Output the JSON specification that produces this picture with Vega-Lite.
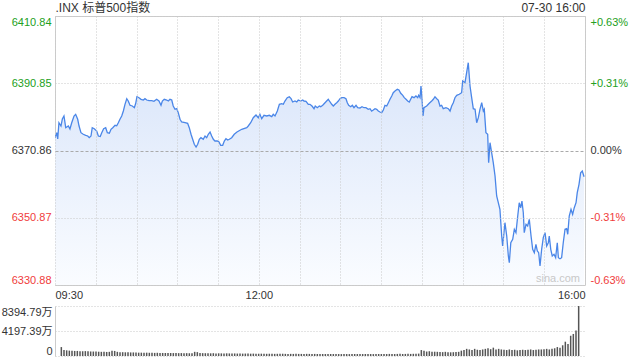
{
  "$schema": "https://vega.github.io/schema/vega-lite/v6.json",
  "background": "white",
  "padding": {"left": 1, "top": 0, "right": 5, "bottom": 4},
  "config": {
    "font": "Liberation Sans, Noto Sans CJK SC, sans-serif",
    "view": {"stroke": null},
    "axis": {"labelFont": "Liberation Sans, Noto Sans CJK SC, sans-serif", "labelFontSize": 11, "ticks": false, "domain": false, "title": null, "labelOverlap": false}
  },
  "datasets": {
    "price": [
      {"t":0,"p":6374.58},{"t":1.3,"p":6376.15},{"t":2,"p":6374.28},{"t":2.9,"p":6379.12},{"t":4.4,"p":6378.14},{"t":5.4,"p":6380.22},{"t":6.6,"p":6381.12},{"t":7.9,"p":6377.64},{"t":9.8,"p":6378.14},{"t":11,"p":6377.25},{"t":12.3,"p":6379.12},{"t":14,"p":6381.12},{"t":15.2,"p":6381.62},{"t":16.7,"p":6380.14},{"t":17.7,"p":6378.14},{"t":19.1,"p":6376.15},{"t":20.8,"p":6375.68},{"t":22.6,"p":6375.38},{"t":24.1,"p":6375.17},{"t":25.2,"p":6374.67},{"t":26.5,"p":6375.17},{"t":27.4,"p":6377.64},{"t":28.9,"p":6377.34},{"t":30.7,"p":6376.66},{"t":31.9,"p":6375.17},{"t":33.3,"p":6375.0},{"t":34.4,"p":6376.15},{"t":35.8,"p":6377.34},{"t":37.3,"p":6377.64},{"t":38.5,"p":6376.15},{"t":40,"p":6376.0},{"t":41.2,"p":6377.16},{"t":42.5,"p":6377.64},{"t":44.2,"p":6378.35},{"t":45.4,"p":6378.2},{"t":46.6,"p":6379.12},{"t":47.8,"p":6380.14},{"t":49.1,"p":6381.12},{"t":50.3,"p":6382.6},{"t":51.5,"p":6384.59},{"t":52.8,"p":6386.26},{"t":53.9,"p":6385.57},{"t":55.2,"p":6384.3},{"t":56.9,"p":6384.09},{"t":58.4,"p":6383.58},{"t":59.4,"p":6384.89},{"t":60.3,"p":6386.85},{"t":61.8,"p":6386.55},{"t":63.3,"p":6386.08},{"t":65,"p":6385.87},{"t":66.2,"p":6386.26},{"t":67.5,"p":6385.87},{"t":69.2,"p":6385.66},{"t":71.2,"p":6385.66},{"t":72.8,"p":6385.48},{"t":74.8,"p":6386.08},{"t":76.5,"p":6385.57},{"t":78,"p":6384.3},{"t":79,"p":6385.57},{"t":80.4,"p":6386.08},{"t":82.2,"p":6385.87},{"t":83.4,"p":6385.57},{"t":84.6,"p":6386.08},{"t":85.9,"p":6385.87},{"t":87,"p":6384.09},{"t":88.3,"p":6383.11},{"t":89.6,"p":6383.29},{"t":90.7,"p":6382.1},{"t":92,"p":6380.14},{"t":93.2,"p":6379.33},{"t":95.7,"p":6379.12},{"t":97.6,"p":6378.95},{"t":98.8,"p":6377.64},{"t":100.1,"p":6375.68},{"t":101.3,"p":6374.19},{"t":102.5,"p":6372.7},{"t":103.8,"p":6371.9},{"t":105,"p":6372.7},{"t":106.2,"p":6374.19},{"t":107.4,"p":6374.67},{"t":109.1,"p":6374.19},{"t":110.4,"p":6375.17},{"t":111.6,"p":6374.67},{"t":112.8,"p":6375.68},{"t":114.1,"p":6376.36},{"t":115.3,"p":6375.17},{"t":116.5,"p":6374.19},{"t":117.7,"p":6373.68},{"t":119.4,"p":6373.68},{"t":120.7,"p":6373.39},{"t":121.9,"p":6372.41},{"t":123.4,"p":6372.41},{"t":124.6,"p":6373.68},{"t":125.8,"p":6374.37},{"t":127.1,"p":6373.98},{"t":128.3,"p":6374.19},{"t":130,"p":6374.67},{"t":131.9,"p":6375.68},{"t":133.9,"p":6376.36},{"t":137.4,"p":6377.16},{"t":141.1,"p":6377.64},{"t":142.2,"p":6378.14},{"t":144,"p":6379.12},{"t":145.9,"p":6380.61},{"t":147.9,"p":6381.41},{"t":149.6,"p":6380.61},{"t":150.8,"p":6381.62},{"t":152.1,"p":6380.31},{"t":153.8,"p":6381.32},{"t":155.8,"p":6381.12},{"t":157.7,"p":6381.32},{"t":159.5,"p":6380.91},{"t":160.6,"p":6381.62},{"t":161.9,"p":6381.12},{"t":163.6,"p":6382.6},{"t":165.1,"p":6384.59},{"t":166.8,"p":6384.77},{"t":168,"p":6384.59},{"t":169.2,"p":6385.57},{"t":170.9,"p":6386.56},{"t":172.4,"p":6386.85},{"t":173.7,"p":6386.26},{"t":174.9,"p":6385.28},{"t":176.6,"p":6385.57},{"t":177.9,"p":6385.28},{"t":179,"p":6385.87},{"t":180.8,"p":6385.57},{"t":182.3,"p":6385.87},{"t":183.2,"p":6385.57},{"t":184.7,"p":6385.5},{"t":186.4,"p":6384.59},{"t":187.6,"p":6384.59},{"t":189.1,"p":6384.09},{"t":190.6,"p":6383.29},{"t":191.5,"p":6384.09},{"t":193,"p":6383.58},{"t":194.5,"p":6384.09},{"t":195.5,"p":6383.88},{"t":197,"p":6384.3},{"t":198.7,"p":6385.07},{"t":199.9,"p":6385.57},{"t":201.1,"p":6386.08},{"t":202.4,"p":6385.28},{"t":203.6,"p":6384.59},{"t":204.8,"p":6384.09},{"t":206,"p":6384.59},{"t":207.3,"p":6385.07},{"t":208.5,"p":6385.57},{"t":209.7,"p":6386.26},{"t":211,"p":6386.56},{"t":212.7,"p":6386.56},{"t":214.1,"p":6386.26},{"t":215.1,"p":6385.07},{"t":216.1,"p":6384.3},{"t":217.6,"p":6383.88},{"t":218.8,"p":6384.3},{"t":220,"p":6383.58},{"t":221.5,"p":6384.3},{"t":222.7,"p":6383.58},{"t":224.4,"p":6383.5},{"t":225.9,"p":6383.88},{"t":227.4,"p":6383.58},{"t":228.8,"p":6383.6},{"t":230.5,"p":6383.11},{"t":231.8,"p":6383.29},{"t":233,"p":6382.6},{"t":234.2,"p":6382.9},{"t":235.5,"p":6383.29},{"t":236.7,"p":6383.11},{"t":237.9,"p":6382.6},{"t":239.1,"p":6382.31},{"t":240.4,"p":6382.1},{"t":241.6,"p":6382.9},{"t":242.8,"p":6384.3},{"t":244.1,"p":6384.09},{"t":245.3,"p":6385.07},{"t":246.5,"p":6386.08},{"t":247.8,"p":6387.06},{"t":248.9,"p":6388.04},{"t":250.2,"p":6388.55},{"t":251.9,"p":6389.05},{"t":253.1,"p":6388.84},{"t":254.4,"p":6387.86},{"t":255.9,"p":6387.27},{"t":257,"p":6386.56},{"t":258.3,"p":6386.08},{"t":259.5,"p":6385.57},{"t":260.7,"p":6385.28},{"t":261.7,"p":6386.08},{"t":262.7,"p":6386.85},{"t":264.2,"p":6386.56},{"t":265.6,"p":6387.06},{"t":266.9,"p":6386.56},{"t":267.6,"p":6387.27},{"t":268.6,"p":6386.56},{"t":269.3,"p":6390.03},{"t":270.1,"p":6386.08},{"t":270.8,"p":6381.12},{"t":271.5,"p":6383.58},{"t":273.5,"p":6384.09},{"t":275.4,"p":6384.89},{"t":277.2,"p":6385.57},{"t":278.4,"p":6386.08},{"t":279.6,"p":6386.85},{"t":280.9,"p":6386.26},{"t":282,"p":6385.87},{"t":283.3,"p":6384.09},{"t":284.5,"p":6384.3},{"t":285.7,"p":6383.29},{"t":287.7,"p":6383.58},{"t":289.4,"p":6383.29},{"t":290.7,"p":6382.6},{"t":291.9,"p":6384.09},{"t":293.1,"p":6385.07},{"t":294.3,"p":6386.56},{"t":295.6,"p":6387.27},{"t":297.5,"p":6387.57},{"t":299.2,"p":6388.04},{"t":300,"p":6391.52},{"t":301.7,"p":6391.02},{"t":302.9,"p":6393.99},{"t":304.1,"p":6396.96},{"t":305.4,"p":6390.03},{"t":306.6,"p":6386.56},{"t":307.8,"p":6383.29},{"t":309.1,"p":6383.11},{"t":310.3,"p":6379.12},{"t":311.5,"p":6380.61},{"t":312.7,"p":6383.11},{"t":314,"p":6385.07},{"t":315.2,"p":6382.6},{"t":315.9,"p":6383.11},{"t":317.1,"p":6376.15},{"t":318.4,"p":6375.68},{"t":319.1,"p":6367.23},{"t":320.1,"p":6373.18},{"t":321.3,"p":6370.21},{"t":322.5,"p":6367.23},{"t":323.8,"p":6363.28},{"t":325,"p":6357.34},{"t":326.2,"p":6355.34},{"t":327.4,"p":6353.38},{"t":328.7,"p":6345.45},{"t":329.4,"p":6342.47},{"t":331.1,"p":6349.4},{"t":332.4,"p":6345.45},{"t":333.6,"p":6339.5},{"t":334.3,"p":6337.51},{"t":335.4,"p":6343.45},{"t":336.8,"p":6344.46},{"t":338,"p":6347.44},{"t":339.2,"p":6346.43},{"t":340.5,"p":6351.39},{"t":341.6,"p":6355.34},{"t":342.7,"p":6353.86},{"t":343.6,"p":6355.85},{"t":344.6,"p":6352.37},{"t":345.3,"p":6346.43},{"t":346.6,"p":6348.92},{"t":347.8,"p":6348.42},{"t":349,"p":6350.41},{"t":350.3,"p":6345.45},{"t":351.5,"p":6341.49},{"t":352.7,"p":6340.48},{"t":353.9,"p":6342.98},{"t":354.9,"p":6340.99},{"t":355.9,"p":6340.48},{"t":356.9,"p":6336.53},{"t":358.1,"p":6341.49},{"t":359.3,"p":6344.94},{"t":360.6,"p":6346.43},{"t":361.8,"p":6342.47},{"t":363,"p":6343.45},{"t":363.7,"p":6345.45},{"t":364.8,"p":6341.49},{"t":365.9,"p":6339.5},{"t":367.2,"p":6340.01},{"t":368.4,"p":6339},{"t":369.6,"p":6343.45},{"t":370.4,"p":6339},{"t":371.6,"p":6338.7},{"t":372.8,"p":6339},{"t":374,"p":6343.45},{"t":375.3,"p":6347.44},{"t":376.5,"p":6347.62},{"t":377.3,"p":6345.95},{"t":378.4,"p":6351.39},{"t":379.7,"p":6353.38},{"t":380.9,"p":6351.9},{"t":382.1,"p":6353.86},{"t":383.4,"p":6355.34},{"t":384.3,"p":6358.32},{"t":385.6,"p":6360.81},{"t":386.8,"p":6364.26},{"t":388,"p":6364.77},{"t":389.3,"p":6363.07}
    ],
    "vol": [
      {"t":1,"v":1500},{"t":3,"v":1000},{"t":5,"v":950},{"t":7,"v":900},{"t":9,"v":900},{"t":11,"v":850},{"t":13,"v":850},{"t":15,"v":800},{"t":17,"v":800},{"t":19,"v":820},{"t":21,"v":780},{"t":23,"v":760},{"t":25,"v":750},{"t":27,"v":740},{"t":29,"v":720},{"t":31,"v":700},{"t":33,"v":720},{"t":35,"v":680},{"t":37,"v":700},{"t":39,"v":900},{"t":41,"v":850},{"t":43,"v":700},{"t":45,"v":650},{"t":47,"v":640},{"t":49,"v":620},{"t":51,"v":630},{"t":53,"v":600},{"t":55,"v":600},{"t":57,"v":580},{"t":59,"v":560},
      {"t":61,"v":560},{"t":63,"v":550},{"t":65,"v":560},{"t":67,"v":540},{"t":69,"v":530},{"t":71,"v":520},{"t":73,"v":540},{"t":75,"v":520},{"t":77,"v":510},{"t":79,"v":500},{"t":81,"v":520},{"t":83,"v":500},{"t":85,"v":490},{"t":87,"v":500},{"t":89,"v":480},{"t":91,"v":490},{"t":93,"v":470},{"t":95,"v":480},{"t":97,"v":460},{"t":99,"v":470},{"t":101,"v":700},{"t":103,"v":650},{"t":105,"v":520},{"t":107,"v":480},{"t":109,"v":470},{"t":111,"v":460},{"t":113,"v":450},{"t":115,"v":470},{"t":117,"v":440},{"t":119,"v":450},
      {"t":121,"v":440},{"t":123,"v":430},{"t":125,"v":450},{"t":127,"v":430},{"t":129,"v":420},{"t":131,"v":430},{"t":133,"v":410},{"t":135,"v":420},{"t":137,"v":400},{"t":139,"v":410},{"t":141,"v":400},{"t":143,"v":390},{"t":145,"v":400},{"t":147,"v":390},{"t":149,"v":380},{"t":151,"v":390},{"t":153,"v":380},{"t":155,"v":370},{"t":157,"v":380},{"t":159,"v":370},{"t":161,"v":360},{"t":163,"v":370},{"t":165,"v":360},{"t":167,"v":380},{"t":169,"v":360},{"t":171,"v":350},{"t":173,"v":360},{"t":175,"v":350},{"t":177,"v":370},{"t":179,"v":350},
      {"t":181,"v":350},{"t":183,"v":340},{"t":185,"v":360},{"t":187,"v":350},{"t":189,"v":340},{"t":191,"v":350},{"t":193,"v":340},{"t":195,"v":330},{"t":197,"v":340},{"t":199,"v":330},{"t":201,"v":350},{"t":203,"v":340},{"t":205,"v":330},{"t":207,"v":340},{"t":209,"v":330},{"t":211,"v":320},{"t":213,"v":340},{"t":215,"v":330},{"t":217,"v":320},{"t":219,"v":330},{"t":221,"v":340},{"t":223,"v":330},{"t":225,"v":320},{"t":227,"v":330},{"t":229,"v":340},{"t":231,"v":320},{"t":233,"v":330},{"t":235,"v":320},{"t":237,"v":330},{"t":239,"v":340},
      {"t":241,"v":330},{"t":243,"v":340},{"t":245,"v":330},{"t":247,"v":350},{"t":249,"v":340},{"t":251,"v":330},{"t":253,"v":350},{"t":255,"v":360},{"t":257,"v":340},{"t":259,"v":350},{"t":261,"v":360},{"t":263,"v":350},{"t":265,"v":370},{"t":267,"v":380},{"t":269,"v":400},
      {"t":271,"v":1000},{"t":273,"v":900},{"t":275,"v":750},{"t":277,"v":800},{"t":279,"v":700},{"t":281,"v":720},{"t":283,"v":700},{"t":285,"v":680},{"t":287,"v":650},{"t":289,"v":700},{"t":291,"v":650},{"t":293,"v":620},{"t":295,"v":640},{"t":297,"v":680},{"t":299,"v":700},
      {"t":301,"v":900},{"t":303,"v":1000},{"t":305,"v":1200},{"t":307,"v":1100},{"t":309,"v":1000},{"t":311,"v":1200},{"t":313,"v":1050},{"t":315,"v":1000},{"t":317,"v":1100},{"t":319,"v":1200},{"t":321,"v":1300},{"t":323,"v":1150},{"t":325,"v":1400},{"t":327,"v":1100},{"t":329,"v":1200},
      {"t":331,"v":1100},{"t":333,"v":1050},{"t":335,"v":1000},{"t":337,"v":1100},{"t":339,"v":1000},{"t":341,"v":1050},{"t":343,"v":950},{"t":345,"v":1000},{"t":347,"v":1050},{"t":349,"v":1000},{"t":351,"v":1050},{"t":353,"v":1100},{"t":355,"v":1000},{"t":357,"v":1050},{"t":359,"v":1100},
      {"t":361,"v":1100},{"t":363,"v":1150},{"t":365,"v":1200},{"t":367,"v":1100},{"t":369,"v":1200},{"t":371,"v":1300},{"t":373,"v":1500},{"t":375,"v":1400},{"t":377,"v":1800},{"t":379,"v":2400},{"t":381,"v":2000},{"t":383,"v":3400},{"t":385,"v":3700},{"t":387,"v":4300},{"t":389,"v":8394.79}
    ]
  },
  "spacing": 21,
  "bounds": "flush",
  "vconcat": [
    {
      "width": 530,
      "height": 269,
      "view": {"stroke": "#cccccc"},
      "layer": [
        {
          "data": {"name": "price"},
          "mark": {"type": "area", "clip": true, "fill": {"gradient": "linear", "x1": 0, "y1": 0, "x2": 0, "y2": 1, "stops": [{"offset": 0, "color": "#d9e5fa"}, {"offset": 1, "color": "#fafcff"}]}},
          "encoding": {
            "x": {"field": "t", "type": "quantitative", "scale": {"domain": [0, 390], "nice": false, "zero": false},
              "axis": {"orient": "bottom", "values": [0,30,60,90,120,150,180,210,240,270,300,330,360,390], "labelExpr": "datum.value==0?'09:30':datum.value==150?'12:00':datum.value==390?'16:00':''", "labelFlush": true, "labelPadding": 4, "labelColor": "#333333", "grid": true, "gridColor": "#c8c8c8", "gridDash": [1, 2], "zindex": 1}},
            "y": {"field": "p", "type": "quantitative", "scale": {"domain": [6330.88, 6410.84], "nice": false, "zero": false},
              "axis": {"orient": "left", "values": [6330.88, 6350.87, 6370.86, 6390.85, 6410.84], "format": ".2f", "labelFlush": true, "labelPadding": 4, "grid": true, "zindex": 1,
                "labelColor": {"condition": [{"test": "datum.value > 6371", "value": "#22a022"}, {"test": "datum.value < 6370", "value": "#f03c3c"}], "value": "#333333"},
                "gridColor": {"condition": {"test": "abs(datum.value-6370.86)<0.01", "value": "#aaaaaa"}, "value": "#c8c8c8"},
                "gridDash": {"condition": {"test": "abs(datum.value-6370.86)<0.01", "value": [3, 2]}, "value": [1, 2]}}},
            "y2": {"datum": 6330.88}
          }
        },
        {
          "data": {"name": "price"},
          "mark": {"type": "line", "color": "#4a86e8", "strokeWidth": 1.3, "clip": true},
          "encoding": {
            "x": {"field": "t", "type": "quantitative", "scale": {"domain": [0, 390], "nice": false, "zero": false},
              "axis": {"orient": "top", "values": [0, 390], "labelExpr": "datum.value==0?'.INX 标普500指数':'07-30 16:00'", "labelFlush": true, "labelPadding": 2, "labelFontSize": 12, "labelColor": "#333333", "grid": false}},
            "y": {"field": "p", "type": "quantitative", "scale": {"domain": [6330.88, 6410.84], "nice": false, "zero": false},
              "axis": {"orient": "right", "values": [6330.88, 6350.87, 6370.86, 6390.85, 6410.84], "labelExpr": "(datum.value>6371?'+':'') + replace(format((datum.value/6370.86-1)*100, '.2f'), '\u2212', '-') + '%'", "labelFlush": true, "labelPadding": 5, "grid": false,
                "labelColor": {"condition": [{"test": "datum.value > 6371", "value": "#22a022"}, {"test": "datum.value < 6370", "value": "#f03c3c"}], "value": "#333333"}}}
          }
        },
        {
          "data": {"values": [{"label": "sina.com"}]},
          "mark": {"type": "text", "align": "right", "baseline": "bottom", "dx": -5, "dy": -1, "color": "#c8c8c8", "fontSize": 11},
          "encoding": {
            "x": {"datum": 390, "type": "quantitative", "axis": null},
            "y": {"datum": 6330.88, "type": "quantitative", "axis": null},
            "text": {"field": "label"}
          }
        }
      ],
      "resolve": {"axis": {"x": "independent", "y": "independent"}}
    },
    {
      "width": 530,
      "height": 50,
      "data": {"name": "vol"},
      "mark": {"type": "bar", "size": 1.5, "color": "#555555"},
      "encoding": {
        "x": {"field": "t", "type": "quantitative", "scale": {"domain": [0, 390], "nice": false, "zero": false}, "axis": null},
        "y": {"field": "v", "type": "quantitative", "scale": {"domain": [0, 8394.79], "nice": false},
          "axis": {"values": [0, 4197.39, 8394.79], "labelExpr": "datum.value==0?'0':format(datum.value,'.2f')+'万'", "labelFlush": true, "labelPadding": 3, "labelColor": "#333333", "grid": true, "gridColor": "#c8c8c8", "gridDash": [1, 2], "domain": true, "domainColor": "#cccccc"}}
      }
    }
  ]
}
